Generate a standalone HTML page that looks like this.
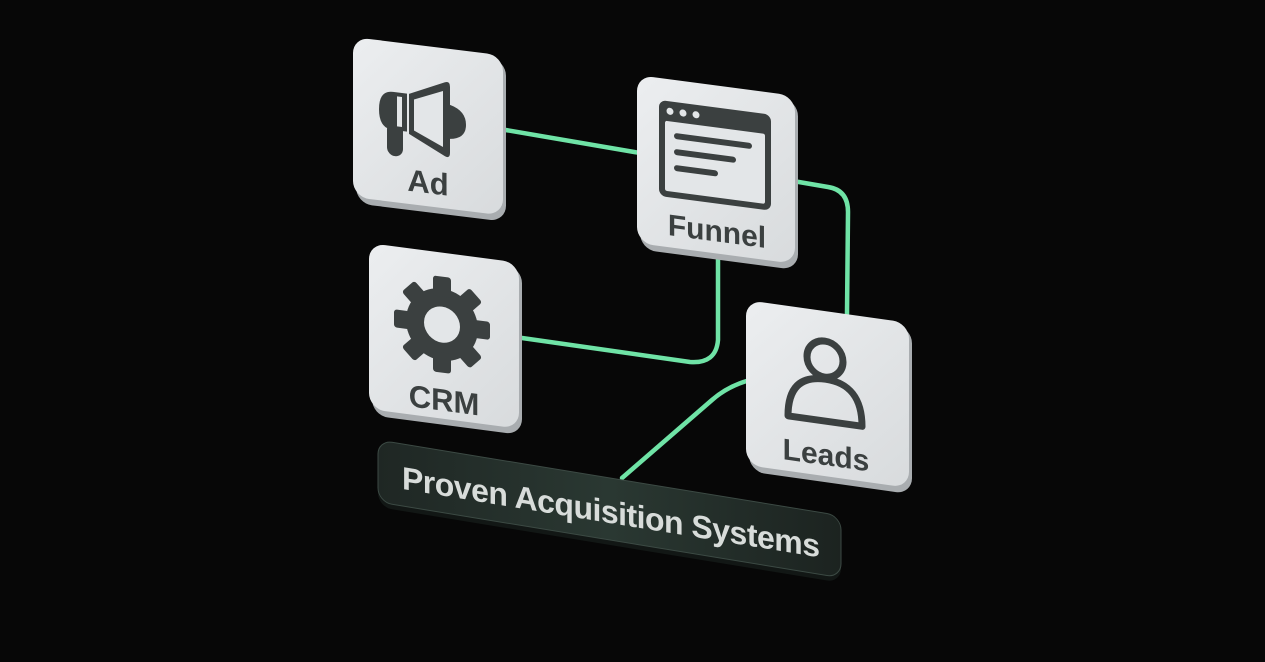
<!DOCTYPE html>
<html><head><meta charset="utf-8"><style>
html,body{margin:0;padding:0;background:#070707;width:1265px;height:662px;overflow:hidden}
svg{display:block}
text{font-family:"Liberation Sans",sans-serif;font-weight:bold}
</style></head><body>
<svg width="1265" height="662" viewBox="0 0 1265 662">
<defs>
<linearGradient id="cg" x1="0" y1="0" x2="1" y2="1">
<stop offset="0" stop-color="#eceef0"/><stop offset="1" stop-color="#d8dbdd"/>
</linearGradient>
<linearGradient id="bg" x1="0" y1="0" x2="1" y2="0">
<stop offset="0" stop-color="#1f2724"/><stop offset="0.5" stop-color="#2a3832"/><stop offset="1" stop-color="#1c2320"/>
</linearGradient>
</defs>
<g fill="none" stroke="#6fe3a6" stroke-width="4.5" stroke-linecap="round">
<path d="M500 129 L640 153"/>
<path d="M793 181 L828 187 Q848 190 848 212 L847 314"/>
<path d="M718 255 L718 340 Q716 364 690 362 L515 337"/>
<path d="M750 380 Q728 386 712 400 L622 478"/>
</g>
<!-- Ad -->
<g transform="translate(353,37) skewY(7)">
<rect x="3" y="4" width="150" height="162" rx="16" fill="#a9adb0"/>
<rect x="0" y="0" width="150" height="160" rx="16" fill="url(#cg)"/>
<g fill="#3b4040">
<path d="M40 50 h14 v38 h-14 q-14 0 -14 -19 q0 -19 14 -19z"/>
<rect x="34" y="80" width="16" height="34" rx="8"/>
<path d="M56 50 L92 34 Q97 32 97 38 V104 Q97 110 92 108 L56 90 Z"/>
<path d="M97 56 q16 4 16 18 q0 14 -16 16z"/>
</g>
<path d="M61 55 L90 43 V99 L61 86 Z" fill="#e3e6e8"/>
<rect x="44" y="54" width="5" height="30" fill="#e3e6e8"/>
<text x="75" y="147" font-size="31" fill="#3b4040" text-anchor="middle">Ad</text>
</g>
<!-- Funnel -->
<g transform="translate(637,75) skewY(7.5)">
<rect x="3" y="4" width="158" height="170" rx="16" fill="#a9adb0"/>
<rect x="0" y="0" width="158" height="168" rx="16" fill="url(#cg)"/>
<rect x="22" y="22" width="112" height="96" rx="7" fill="#3b4040"/>
<rect x="28" y="42" width="100" height="70" rx="2" fill="#e3e6e8"/>
<circle cx="33" cy="32" r="3.5" fill="#e3e6e8"/><circle cx="46" cy="32" r="3.5" fill="#e3e6e8"/><circle cx="59" cy="32" r="3.5" fill="#e3e6e8"/>
<g stroke="#3b4040" stroke-width="6" stroke-linecap="round">
<line x1="40" y1="56" x2="112" y2="56"/><line x1="40" y1="72" x2="96" y2="72"/><line x1="40" y1="88" x2="78" y2="88"/>
</g>
<text x="80" y="156" font-size="30" fill="#3b4040" text-anchor="middle">Funnel</text>
</g>
<!-- CRM -->
<g transform="translate(369,243) skewY(7.5)">
<rect x="3" y="4" width="150" height="168" rx="16" fill="#a9adb0"/>
<rect x="0" y="0" width="150" height="166" rx="16" fill="url(#cg)"/>
<g transform="translate(73,72)">
<g fill="#3b4040">
<circle r="36"/>
<rect x="-9" y="-48" width="18" height="20" rx="3"/>
<rect x="-9" y="-48" width="18" height="20" rx="3" transform="rotate(45)"/>
<rect x="-9" y="-48" width="18" height="20" rx="3" transform="rotate(90)"/>
<rect x="-9" y="-48" width="18" height="20" rx="3" transform="rotate(135)"/>
<rect x="-9" y="-48" width="18" height="20" rx="3" transform="rotate(180)"/>
<rect x="-9" y="-48" width="18" height="20" rx="3" transform="rotate(225)"/>
<rect x="-9" y="-48" width="18" height="20" rx="3" transform="rotate(270)"/>
<rect x="-9" y="-48" width="18" height="20" rx="3" transform="rotate(315)"/>
</g>
<circle r="18" fill="#e3e6e8"/>
</g>
<text x="75" y="158" font-size="31" fill="#3b4040" text-anchor="middle">CRM</text>
</g>
<!-- Leads -->
<g transform="translate(746,300) skewY(8)">
<rect x="3" y="4" width="163" height="167" rx="16" fill="#a9adb0"/>
<rect x="0" y="0" width="163" height="165" rx="16" fill="url(#cg)"/>
<g fill="none" stroke="#3b4040" stroke-width="7">
<circle cx="79" cy="48" r="18"/>
<path d="M42 110 q0 -42 37 -42 q37 0 37 42 z" stroke-linejoin="round"/>
</g>
<text x="80" y="154" font-size="30" fill="#3b4040" text-anchor="middle">Leads</text>
</g>
<!-- Banner -->
<g transform="translate(378,440) skewY(9.3)">
<rect x="0" y="3" width="463" height="64" rx="14" fill="#121715"/>
<rect x="0" y="0" width="463" height="62" rx="14" fill="url(#bg)" stroke="#3c4a44" stroke-width="1"/>
<text x="24" y="45" font-size="32" fill="#d8dcda" textLength="418">Proven Acquisition Systems</text>
</g>
</svg>
</body></html>
